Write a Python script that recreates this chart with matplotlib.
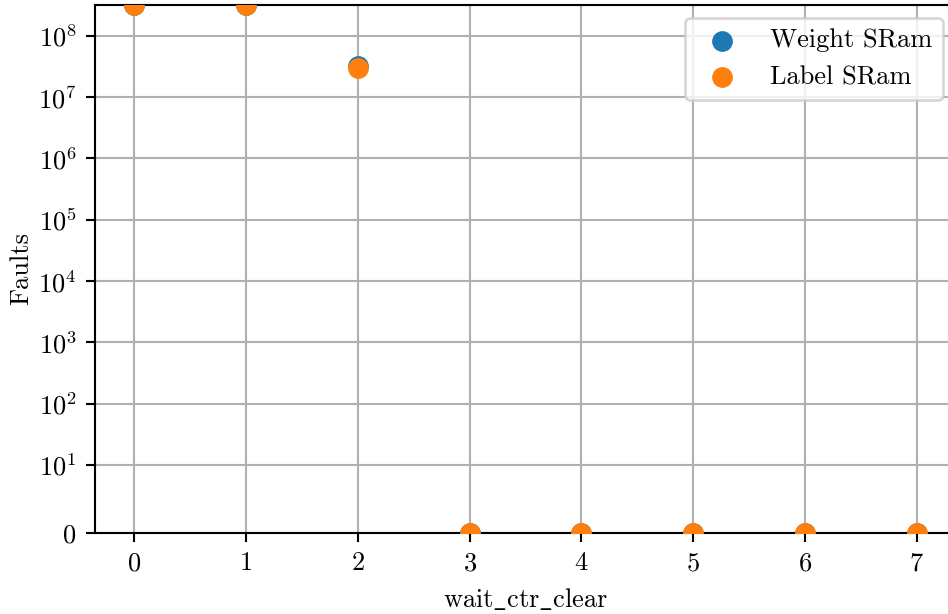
import matplotlib
matplotlib.use("Agg")
import matplotlib.pyplot as plt

plt.rcParams.update({
    "font.family": ["cmr10", "DejaVu Serif"],
    "mathtext.fontset": "cm",
    "axes.formatter.use_mathtext": True,
    "axes.unicode_minus": False,
    "font.size": 10,
})

# valores de espera do contador e falhas medidas
wait_ctr_clear = [0, 1, 2, 3, 4, 5, 6, 7]
weight_sram = [3.2e8, 3.2e8, 3.2e7, 0, 0, 0, 0, 0]
label_sram = [3.2e8, 3.2e8, 3.0e7, 0, 0, 0, 0, 0]

dpi = 190
fig = plt.figure(figsize=(948 / dpi, 614 / dpi), dpi=dpi)
ax = fig.add_axes([0.1003, 0.1319, 0.908, 0.86])

ax.scatter(wait_ctr_clear, weight_sram, s=47, label="Weight SRam", zorder=3)
ax.scatter(wait_ctr_clear, label_sram, s=47, label="Label SRam", zorder=3)

ax.set_yscale("symlog", linthresh=10)
ax.set_ylim(0, max(weight_sram))
ax.set_xlabel(r"$\mathrm{wait\_ctr\_clear}$")
ax.set_ylabel("Faults", labelpad=2)
ax.grid(True)
ax.set_axisbelow(True)
ax.legend(loc="upper right")

fig.savefig("out.png", dpi=dpi)
